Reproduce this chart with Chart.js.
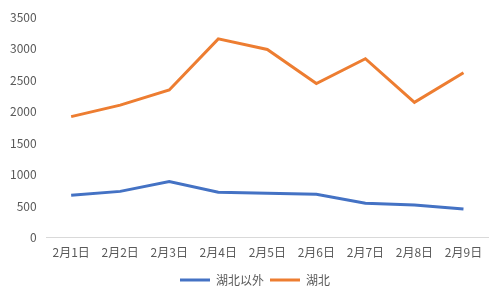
<!DOCTYPE html>
<html>
<head>
<meta charset="utf-8">
<script src="https://cdn.jsdelivr.net/npm/chart.js@4/dist/chart.umd.min.js"></script>
<style>
  html, body { margin: 0; padding: 0; background: #fff; }
  #wrap { width: 500px; height: 290px; }
</style>
</head>
<body>
<div id="wrap"><canvas id="chart" width="500" height="290"></canvas></div>
<script>
const categories = ['2月1日', '2月2日', '2月3日', '2月4日', '2月5日', '2月6日', '2月7日', '2月8日', '2月9日'];
const outsideHubei = [672, 734, 890, 719, 703, 688, 547, 516, 453];
const hubei = [1921, 2103, 2345, 3156, 2987, 2447, 2841, 2147, 2618];
const yTicks = [0, 500, 1000, 1500, 2000, 2500, 3000, 3500];

const font = "'Noto Sans CJK SC', 'Noto Sans', sans-serif";

// nudge the legend a bit right, it sits centred on the page in the original
const legendShift = {
    id: 'legendShift',
    afterLayout(chart) {
        chart.legend.left += 11;
        chart.legend.right += 11;
    }
};

const ctx = document.getElementById('chart').getContext('2d');
new Chart(ctx, {
    type: 'line',
    data: {
        labels: categories,
        datasets: [{
            label: '湖北以外',
            data: outsideHubei,
            borderColor: '#4472C4',
            backgroundColor: '#4472C4',
            borderWidth: 3,
            pointRadius: 0,
            tension: 0
        }, {
            label: '湖北',
            data: hubei,
            borderColor: '#ED7D31',
            backgroundColor: '#ED7D31',
            borderWidth: 3,
            pointRadius: 0,
            tension: 0
        }]
    },
    options: {
        responsive: false,
        animation: false,
        layout: { padding: { top: 3, right: 12, left: 0, bottom: -6 } },
        plugins: {
            tooltip: { enabled: false },
            legend: {
                position: 'bottom',
                labels: {
                    usePointStyle: true,
                    pointStyle: 'line',
                    pointStyleWidth: 30,
                    color: '#595959',
                    font: { family: font, size: 12 },
                    padding: 6
                }
            }
        },
        scales: {
            x: {
                offset: true,
                grid: { display: false, drawTicks: false },
                border: { display: true, color: '#d9d9d9', width: 1 },
                ticks: { color: '#595959', font: { family: font, size: 12 }, padding: 8, maxRotation: 0 }
            },
            y: {
                min: 0,
                max: 3500,
                afterBuildTicks: (axis) => { axis.ticks = yTicks.map(v => ({ value: v })); },
                grid: { display: false, drawTicks: false },
                border: { display: false },
                ticks: { color: '#595959', font: { family: font, size: 12 }, padding: 10, callback: (v) => String(v) }
            }
        }
    },
    plugins: [legendShift]
});
</script>
</body>
</html>
